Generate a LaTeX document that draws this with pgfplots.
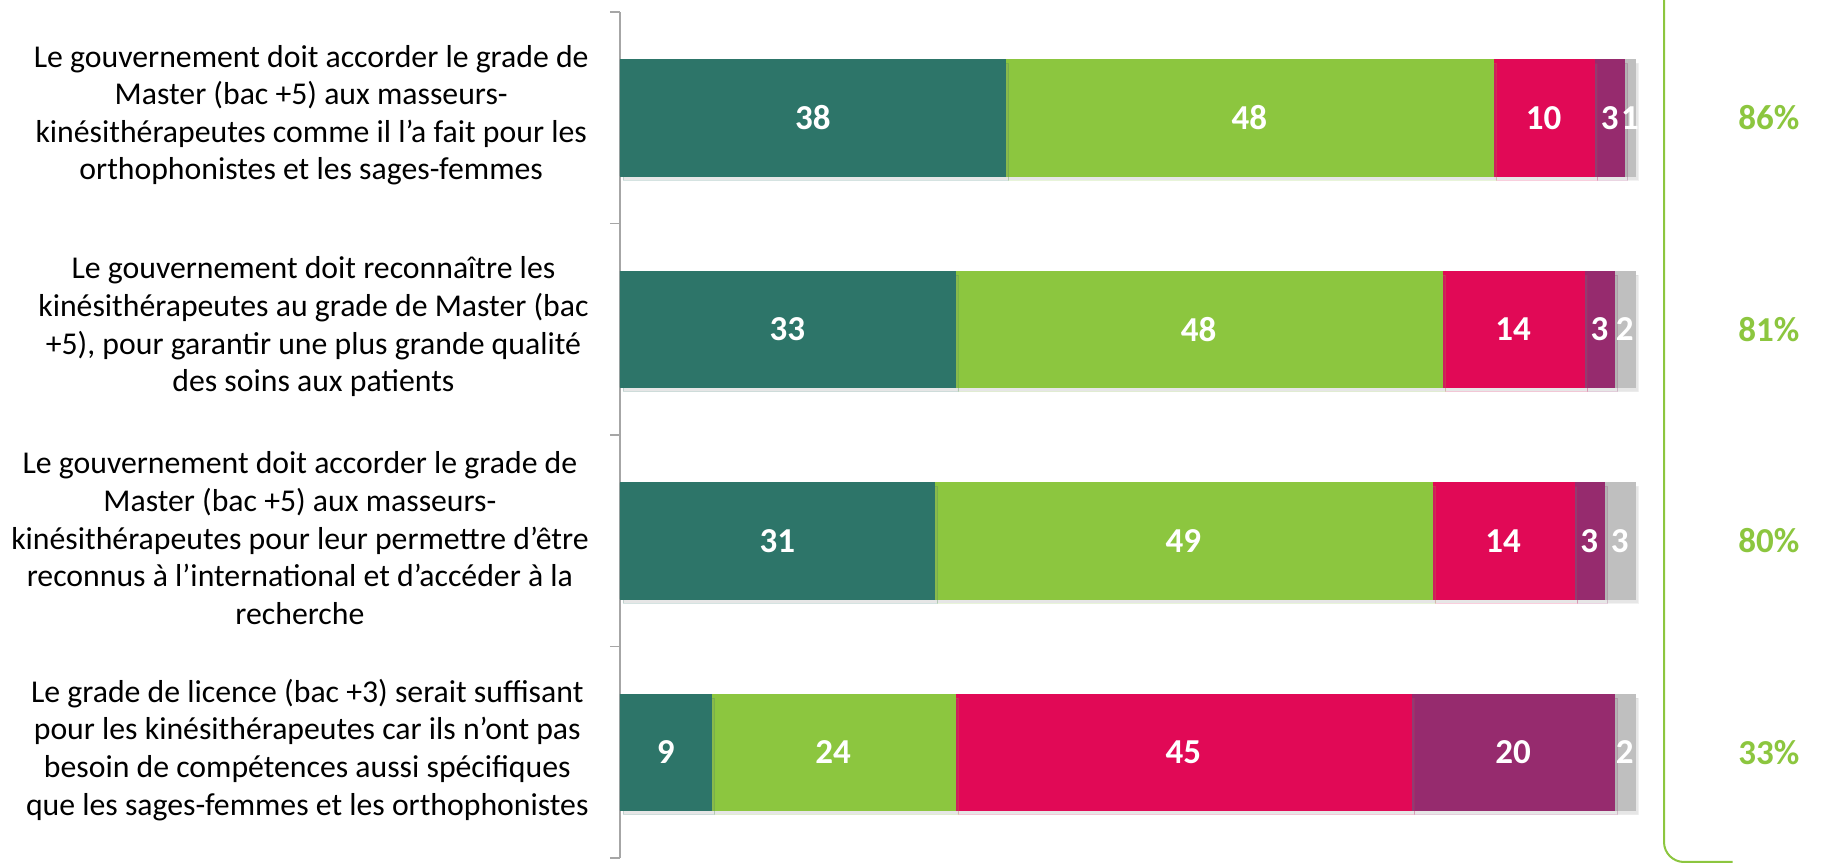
\documentclass[border=0pt]{standalone}
\usepackage{pgfplots}
\pgfplotsset{compat=1.18}
\usepackage{pgfplotstable}
\usepackage{fontspec}
\setmainfont{Carlito}
\usetikzlibrary{shadows}
\definecolor{cTeal}{HTML}{2D7569}
\definecolor{cGreen}{HTML}{8CC63F}
\definecolor{cRed}{HTML}{E10956}
\definecolor{cPurple}{HTML}{962B6E}
\definecolor{cGray}{HTML}{BFBFBF}
\definecolor{axGray}{HTML}{A6A6A6}
\pgfplotstableread{
i v
0 38
1 33
2 31
3 9
}\tTeal
\pgfplotstableread{
i v
0 48
1 48
2 49
3 24
}\tGreen
\pgfplotstableread{
i v
0 10
1 14
2 14
3 45
}\tRed
\pgfplotstableread{
i v
0 3
1 3
2 3
3 20
}\tPurple
\pgfplotstableread{
i v
0 1
1 2
2 3
3 2
}\tGray
\begin{document}
\begin{tikzpicture}
\path[use as bounding box] (-248pt,-2pt) rectangle (488.4pt,343.2pt);
\begin{axis}[
  at={(0,0)}, anchor=south west, scale only axis,
  width=406pt, height=338.4pt,
  xbar stacked, bar width=0.55,
  xmin=0, xmax=100, ymin=-0.5, ymax=3.5, y dir=reverse,
  hide x axis,
  axis y line*=left,
  y axis line style={color=axGray, line width=0.6pt},
  ytick={0,1,2,3},
  major tick length=0pt,
  yticklabels={
    {Le gouvernement doit accorder le grade de\\Master (bac +5) aux masseurs-\\kinésithérapeutes comme il l’a fait pour les\\orthophonistes et les sages-femmes},
    {Le gouvernement doit reconnaître les\\kinésithérapeutes au grade de Master (bac\\+5), pour garantir une plus grande qualité\\des soins aux patients},
    {Le gouvernement doit accorder le grade de\\Master (bac +5) aux masseurs-\\kinésithérapeutes pour leur permettre d’être\\reconnus à l’international et d’accéder à la\\recherche},
    {Le grade de licence (bac +3) serait suffisant\\pour les kinésithérapeutes car ils n’ont pas\\besoin de compétences aussi spécifiques\\que les sages-femmes et les orthophonistes}
  },
  yticklabel style={align=center, font=\fontsize{12.7}{15.04}\selectfont, text=black, inner sep=0pt, xshift=-12.4pt, yshift=1pt},
  extra y ticks={-0.5,0.5,1.5,2.5,3.5},
  extra y tick labels={},
  extra y tick style={major tick length=4pt, tick align=outside, tick style={color=axGray, line width=0.6pt}},
  clip=false,
  point meta=explicit,
  nodes near coords={\pgfmathprintnumber[assume math mode=true]{\pgfplotspointmeta}},
  every node near coord/.style={font=\bfseries\fontsize{14}{16}\selectfont, text=white, anchor=center, inner sep=0pt},
  every axis plot/.append style={line width=0.3pt, drop shadow={shadow xshift=1.2pt, shadow yshift=-1.6pt, opacity=0.2}},
]
\addplot[fill=cTeal, draw=cTeal] table[x=v, y=i, meta=v] {\tTeal};
\addplot[fill=cGreen, draw=cGreen] table[x=v, y=i, meta=v] {\tGreen};
\addplot[fill=cRed, draw=cRed] table[x=v, y=i, meta=v] {\tRed};
\addplot[fill=cPurple, draw=cPurple] table[x=v, y=i, meta=v] {\tPurple};
\addplot[fill=cGray, draw=cGray] table[x=v, y=i, meta=v] {\tGray};
\node[font=\bfseries\fontsize{14}{16}\selectfont, text=cGreen] at (axis cs:113.2,0) {86\%};
\node[font=\bfseries\fontsize{14}{16}\selectfont, text=cGreen] at (axis cs:113.2,1) {81\%};
\node[font=\bfseries\fontsize{14}{16}\selectfont, text=cGreen] at (axis cs:113.2,2) {80\%};
\node[font=\bfseries\fontsize{14}{16}\selectfont, text=cGreen] at (axis cs:113.2,3) {33\%};
\end{axis}
\draw[cGreen, line width=0.8pt, rounded corners=8pt] (417.6pt,345pt) -- (417.6pt,-1.6pt) -- (445pt,-1.6pt);
\end{tikzpicture}
\end{document}
